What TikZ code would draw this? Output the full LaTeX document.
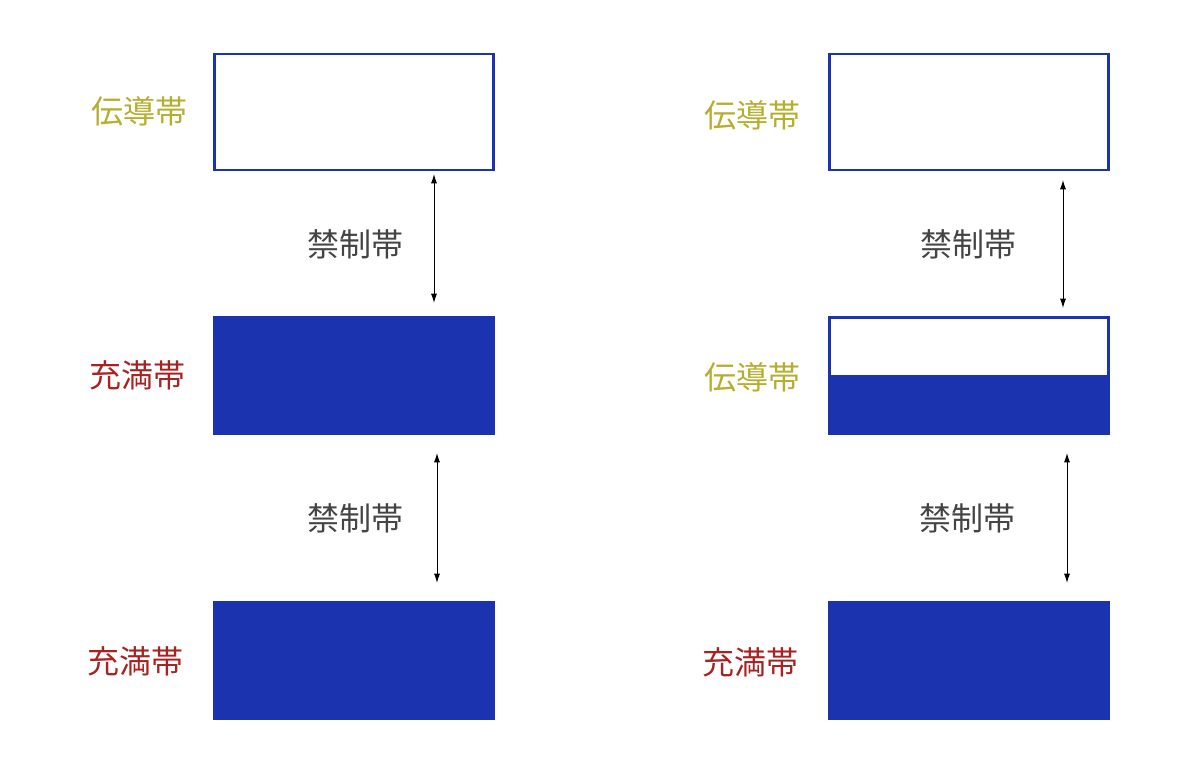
\documentclass[tikz,border=0pt]{standalone}
\usepackage{fontspec}
\setmainfont{Noto Sans CJK JP}
\usetikzlibrary{arrows.meta, positioning}
\definecolor{bandblue}{RGB}{27,51,175}
\definecolor{condolive}{RGB}{181,174,46}
\definecolor{valred}{RGB}{168,34,34}
\definecolor{gapgray}{RGB}{68,68,68}

\tikzset{
  fullband/.style={rectangle, fill=bandblue, draw=bandblue, line width=0.5pt, minimum width=211pt, minimum height=88.5pt, inner sep=0pt},
  emptyband/.style={rectangle, fill=white, draw=bandblue, line width=2.2pt, minimum width=209.5pt, minimum height=87pt, inner sep=0pt},
  bandlabel/.style={font=\fontsize{24}{28}\selectfont, inner sep=0pt},
  gaparrow/.style={{Latex[length=7pt,width=4.5pt]}-{Latex[length=7pt,width=4.5pt]}, line width=0.7pt, black}
}

\begin{document}
\begin{tikzpicture}[x=0.75pt, y=-0.75pt]
        \useasboundingbox (0,0) rectangle (1200,784);

        % Left: bands
        \node[emptyband] (lc) at (354,112) {};
        \node[fullband] (lv1) at (354,375.5) {};
        \node[fullband] (lv2) at (354,660.5) {};

        % Right: bands
        \node[emptyband] (rc) at (969,112) {};
        \node[emptyband] (rm) at (969,375.5) {};
        \fill[bandblue] (rm.west) rectangle (rm.south east);
        \node[fullband] (rv) at (969,660.5) {};

        % Band names
        \node[bandlabel, condolive] (lcname) at (139,111) {伝導帯};
        \node[bandlabel, valred] (lv1name) at (137,375) {充満帯};
        \node[bandlabel, valred] (lv2name) at (135,661) {充満帯};
        \node[bandlabel, condolive] (rcname) at (752,115) {伝導帯};
        \node[bandlabel, condolive] (rmname) at (752,377) {伝導帯};
        \node[bandlabel, valred] (rvname) at (750,662) {充満帯};

        % Gaps
        \node[bandlabel, gapgray] (lg1) at (355,244) {禁制帯};
        \node[bandlabel, gapgray] (lg2) at (355,518) {禁制帯};
        \node[bandlabel, gapgray] (rg1) at (968,244) {禁制帯};
        \node[bandlabel, gapgray] (rg2) at (967,518) {禁制帯};

        \coordinate (lg1top) at (434,174);
        \coordinate (lg1bot) at (434,303);
        \coordinate (lg2top) at (437,453);
        \coordinate (lg2bot) at (437,583);
        \coordinate (rg1top) at (1063,180);
        \coordinate (rg1bot) at (1063,308);
        \coordinate (rg2top) at (1067,453);
        \coordinate (rg2bot) at (1067,583);

        \draw[gaparrow] (lg1top) -- (lg1bot);
        \draw[gaparrow] (lg2top) -- (lg2bot);
        \draw[gaparrow] (rg1top) -- (rg1bot);
        \draw[gaparrow] (rg2top) -- (rg2bot);
    \end{tikzpicture}
\end{document}
